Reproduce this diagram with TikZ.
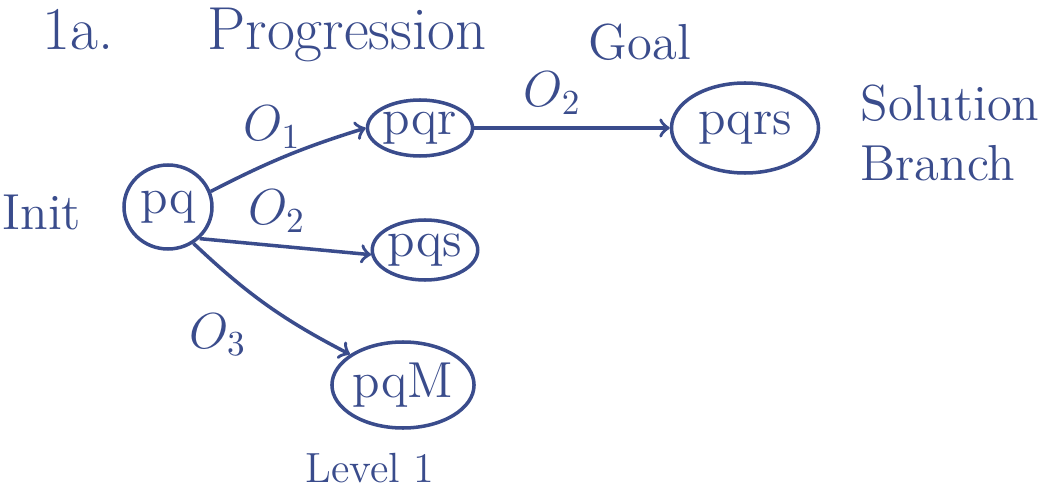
\documentclass[tikz,border=0pt]{standalone}
\usetikzlibrary{shapes.geometric}
\definecolor{ink}{HTML}{3A4C8C}

\begin{document}
\begin{tikzpicture}[ink, line width=1pt,
    state/.style={draw, ellipse, inner sep=0pt, font=\Large},
    oplabel/.style={font=\Large}]
                    \useasboundingbox (0,0) rectangle (10.45,-4.91);
                    % titles
                    \node[font=\LARGE, anchor=base] (num) at (0.78,-0.50) {1a.};
                    \node[font=\LARGE, anchor=base] (prog) at (3.47,-0.50) {Progression};
                    \node[font=\Large] (goal) at (6.40,-0.42) {Goal};
                    \node[font=\Large] (init) at (0.42,-2.12) {Init};
                    % states
                    \node[state, minimum width=0.88cm, minimum height=0.84cm] (pq) at (1.68,-2.07) {pq};
                    \node[state, minimum width=0.80cm, minimum height=0.56cm] (pqr) at (4.20,-1.28) {pqr};
                    \node[state, minimum width=0.82cm, minimum height=0.60cm] (pqs) at (4.25,-2.50) {pqs};
                    \node[state, minimum width=1.03cm, minimum height=0.86cm] (pqm) at (4.03,-3.85) {pqM};
                    \node[state, minimum width=1.47cm, minimum height=0.90cm] (pqrs) at (7.45,-1.28) {pqrs};
                    \node[font=\Large, align=left] (sol) at (9.50,-1.33) {Solution\\[-1pt]Branch};
                    \node[font=\large] (lvl) at (3.70,-4.68) {Level 1};
                    % operators
                    \draw[->] (pq.20) to[bend left=5] node[oplabel, pos=0.4, above] {$O_1$} (pqr.west);
                    \draw[->] (pq.-45) -- node[oplabel, pos=0.45, above] {$O_2$} (pqs.185);
                    \draw[->] (pq.-55) to[bend right=8] node[oplabel, pos=0.45, below left] {$O_3$} (pqm.150);
                    \draw[->] (pqr.east) -- node[oplabel, pos=0.4, above] {$O_2$} (pqrs.west);
                \end{tikzpicture}
\end{document}
